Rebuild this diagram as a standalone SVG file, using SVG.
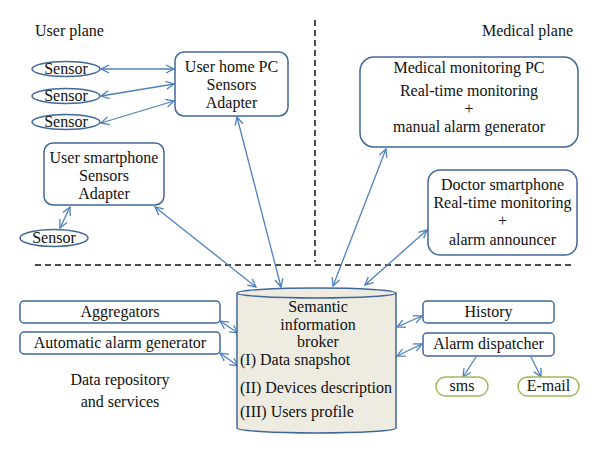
<svg xmlns="http://www.w3.org/2000/svg" width="600" height="453" viewBox="0 0 600 453">
<style>
text{font-family:'Liberation Serif',Times,'Times New Roman','DejaVu Serif',serif;font-size:16px;fill:#111;}
.c{text-anchor:middle;}
.box{fill:#fff;stroke:#41679a;stroke-width:1.5;}
.sen{fill:#fff;stroke:#41679a;stroke-width:1.5;}
.grn{fill:#fff;stroke:#9bbb59;stroke-width:1.5;}
.ar{stroke:#4f81bd;stroke-width:1.3;fill:none;marker-end:url(#ah);}
.ar2{stroke:#4f81bd;stroke-width:1.3;fill:none;marker-end:url(#ah);marker-start:url(#ah);}
.dash{stroke:#111;stroke-width:1.5;stroke-dasharray:6 4;fill:none;}
</style>
<defs>
<marker id="ah" viewBox="0 0 10 10" refX="9" refY="5" markerWidth="10" markerHeight="10" markerUnits="userSpaceOnUse" orient="auto-start-reverse">
<path d="M1,1 L9,5 L1,9" fill="none" stroke="#4f81bd" stroke-width="1.3"/>
</marker>
</defs>
<rect width="600" height="453" fill="#fff"/>
<g id="planes" font-family="Liberation Serif, serif">
<line class="dash" x1="315" y1="20" x2="315" y2="262"/>
<line class="dash" x1="35" y1="265" x2="573" y2="265"/>
<text x="35" y="36">User plane</text>
<text x="573" y="36" text-anchor="end">Medical plane</text>
<text class="c" x="120" y="385">Data repository</text>
<text class="c" x="120" y="407">and services</text>
</g>
<g id="connectors">
<line class="ar2" x1="101" y1="69" x2="174" y2="69"/>
<line class="ar2" x1="101" y1="96" x2="174" y2="84"/>
<line class="ar2" x1="101" y1="123" x2="174" y2="101"/>
<line class="ar2" x1="70" y1="207" x2="60" y2="228"/>
<line class="ar2" x1="155" y1="207" x2="256" y2="287"/>
<line class="ar2" x1="237" y1="117" x2="281" y2="287"/>
<line class="ar2" x1="386" y1="149" x2="333" y2="286"/>
<line class="ar2" x1="427" y1="230" x2="365" y2="285"/>
<line class="ar2" x1="220" y1="321" x2="238" y2="333"/>
<line class="ar2" x1="220" y1="353" x2="238" y2="366"/>
<line class="ar2" x1="397" y1="327" x2="422" y2="316"/>
<line class="ar2" x1="397" y1="356" x2="422" y2="344"/>
<line class="ar" x1="476" y1="357" x2="463" y2="377"/>
<line class="ar" x1="531" y1="357" x2="541" y2="377"/>
</g>
<g id="sensor1"><ellipse class="sen" cx="66" cy="69" rx="34" ry="7.5"/><text class="c" x="66" y="74">Sensor</text></g>
<g id="sensor2"><ellipse class="sen" cx="66" cy="96" rx="34" ry="7.5"/><text class="c" x="66" y="101">Sensor</text></g>
<g id="sensor3"><ellipse class="sen" cx="66" cy="122" rx="34" ry="7.5"/><text class="c" x="66" y="127">Sensor</text></g>
<g id="sensor4"><ellipse class="sen" cx="54" cy="238" rx="34" ry="8.5"/><text class="c" x="54" y="243">Sensor</text></g>
<g id="user-home-pc">
<rect class="box" x="175" y="52" width="113" height="64" rx="9"/>
<text class="c" x="231.5" y="72">User home PC</text>
<text class="c" x="231.5" y="90">Sensors</text>
<text class="c" x="231.5" y="108">Adapter</text>
</g>
<g id="user-smartphone">
<rect class="box" x="44" y="143" width="120" height="62" rx="9"/>
<text class="c" x="104" y="163">User smartphone</text>
<text class="c" x="104" y="181">Sensors</text>
<text class="c" x="104" y="199">Adapter</text>
</g>
<g id="medical-pc">
<rect class="box" x="360" y="57" width="218" height="90" rx="14"/>
<text class="c" x="469" y="73">Medical monitoring PC</text>
<text class="c" x="469" y="96">Real-time monitoring</text>
<text class="c" x="469" y="114">+</text>
<text class="c" x="469" y="132">manual alarm generator</text>
</g>
<g id="doctor-smartphone">
<rect class="box" x="428" y="170" width="149" height="85" rx="12"/>
<text class="c" x="502.5" y="190">Doctor smartphone</text>
<text class="c" x="502.5" y="208">Real-time monitoring</text>
<text class="c" x="502.5" y="226">+</text>
<text class="c" x="502.5" y="245">alarm announcer</text>
</g>
<g id="broker">
<path d="M237,293 L237,428 A79.5,5 0 0 0 396,428 L396,293" fill="#eeece1" stroke="#41679a" stroke-width="1.5"/>
<ellipse cx="316.5" cy="293" rx="79.5" ry="5" fill="#eeece1" stroke="#41679a" stroke-width="1.5"/>
<text class="c" x="318" y="312">Semantic</text>
<text class="c" x="318" y="330">information</text>
<text class="c" x="318" y="347">broker</text>
<text x="240" y="365">(I) Data snapshot</text>
<text x="240" y="393">(II) Devices description</text>
<text x="240" y="417">(III) Users profile</text>
</g>
<g id="aggregators"><rect class="box" x="20" y="301" width="200" height="22" rx="4"/><text class="c" x="120" y="317">Aggregators</text></g>
<g id="auto-alarm"><rect class="box" x="20" y="332" width="200" height="22" rx="4"/><text class="c" x="120" y="348">Automatic alarm generator</text></g>
<g id="history"><rect class="box" x="423" y="301" width="131" height="22" rx="4"/><text class="c" x="488.5" y="317">History</text></g>
<g id="alarm-dispatcher"><rect class="box" x="423" y="333" width="131" height="23" rx="4"/><text class="c" x="488.5" y="349">Alarm dispatcher</text></g>
<g id="sms"><rect class="grn" x="436" y="377" width="52" height="19" rx="9.5"/><text class="c" x="462" y="391">sms</text></g>
<g id="email"><rect class="grn" x="518" y="377" width="61" height="19" rx="9.5"/><text class="c" x="548.5" y="391">E-mail</text></g>
</svg>
